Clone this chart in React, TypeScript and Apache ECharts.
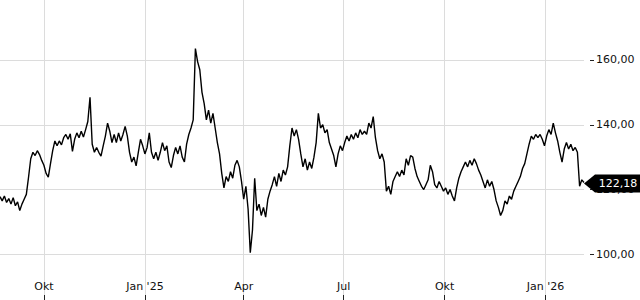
import React, { useEffect, useRef } from "react";
import * as echarts from "echarts";

// Price series, one value every 2 calendar days starting 22 Aug 2024
const START_DATE = "2024-08-22";
const STEP_DAYS = 2;
const prices2024a = [
  117.8, 116.5, 118.0, 116.0, 117.2, 115.5, 117.5, 115.0, 116.2, 113.5, 115.5, 117.0,
  118.5, 123.8, 129.5, 131.5, 130.5, 132.0, 130.8, 129.0, 127.5, 125.0, 123.8,
  128.0, 132.0, 135.0, 133.5, 135.0, 133.8, 136.0, 137.0, 135.5, 137.2, 131.8, 135.5, 137.5, 136.0, 138.0, 136.2, 138.5, 141.0, 148.5,
];
const prices2024b = [
  134.0, 131.5, 133.0, 131.5, 130.3, 133.5, 136.5, 140.5, 138.0, 134.5, 137.0, 134.5, 137.5, 135.0, 137.0, 139.5, 136.5,
  131.5, 128.5, 130.0, 127.3, 131.5, 135.5, 133.5, 131.0, 133.0, 137.5, 131.5, 129.5, 131.5, 129.0, 131.5,
  134.5, 132.0, 133.5, 128.5, 126.8, 130.5, 133.0, 131.0, 133.5, 130.0, 128.5, 134.0, 137.0, 139.0, 141.5,
];
const prices2025a = [
  163.5, 159.5, 157.0, 150.0, 146.5, 141.5, 144.5, 140.5, 143.5, 139.0, 134.5, 131.0, 125.0, 120.5, 124.0,
  122.5, 125.5, 123.5, 127.5, 129.0, 127.0, 122.5, 117.0, 121.0, 114.0,
  100.5, 107.5, 123.5, 113.5, 115.5, 112.0, 114.5, 111.5, 117.0, 119.5, 121.5, 124.0, 121.0, 125.0, 122.5,
  126.0, 124.5, 127.0, 133.5, 139.0, 136.5, 138.5, 135.5, 131.0, 127.0, 129.5, 126.0, 128.5, 126.5,
];
const prices2025b = [
  130.0, 134.5, 143.5, 139.0, 140.0, 137.5, 138.5, 134.5, 132.5, 130.5, 127.0, 131.0, 133.5, 132.0, 134.5,
  136.5, 135.0, 137.0, 135.5, 137.5, 136.0, 138.5, 137.0, 138.0, 137.0, 140.5, 139.0, 142.5, 136.0, 132.0,
  129.5, 131.0, 128.5,
  119.5, 121.0, 118.5, 122.5, 124.0, 125.5, 124.0, 126.0, 124.5, 129.5, 127.5, 130.5, 130.0, 126.5, 124.0,
  122.5, 121.0, 120.0, 121.5, 123.0, 127.5, 125.5, 121.5, 120.5, 122.5, 121.0, 119.5, 120.5, 118.5, 120.0,
  118.0, 116.5,
];
const prices2025c = [
  120.5, 123.5, 125.5, 127.0, 128.5, 127.0, 129.0, 127.5, 129.5, 128.0, 126.0, 124.5, 122.5, 120.5, 123.0,
  121.0, 122.5, 120.0, 116.5, 114.5, 112.0, 113.5, 116.5, 115.5, 118.0, 117.0, 119.5, 121.0, 122.5, 124.0,
  126.5, 128.0,
  131.0, 134.0, 136.5, 135.5, 137.0, 136.0, 137.0, 135.5, 133.5, 136.5, 138.5, 137.0, 140.5, 137.5, 135.0,
  131.5, 128.5, 132.5, 134.5, 132.5, 134.0, 132.0, 133.0, 131.5, 121.0, 123.0, 122.18,
];

const xTickDates = ["2024-10-01", "2025-01-01", "2025-04-01", "2025-07-01", "2025-10-01", "2026-01-01"];
const xTickLabels = ["Okt", "Jan '25", "Apr", "Jul", "Okt", "Jan '26"];
const yMin = 80;
const yMax = 180;
const yStep = 20;

const DAY = 86400000;
const toTs = (s: string) => {
  const [y, m, d] = s.split("-").map(Number);
  return Date.UTC(y, m - 1, d);
};
const fmt = (v: number) => v.toFixed(2).replace(".", ",");

export default function App() {
  const ref = useRef<HTMLDivElement>(null);
  useEffect(() => {
    if (!ref.current) return;
    const chart = echarts.init(ref.current, undefined, { renderer: "svg" });
    const prices = [...prices2024a, ...prices2024b, ...prices2025a, ...prices2025b, ...prices2025c];
    const t0 = toTs(START_DATE);
    const data = prices.map((v, i) => [t0 + i * STEP_DAYS * DAY, v]);
    const last = data[data.length - 1];
    const tickTs = xTickDates.map(toTs);
    const font = "DejaVu Sans";
    chart.setOption({
      animation: false,
      grid: { left: 0, right: 56, top: 0.2, height: 323.9 },
      xAxis: {
        type: "value",
        min: t0,
        max: last[0],
        offset: -19.1,
        axisLine: { show: false },
        axisTick: {
          show: true,
          inside: true,
          length: 5,
          customValues: tickTs,
          lineStyle: { color: "#222", width: 1 },
        },
        axisLabel: {
          inside: true,
          margin: 8,
          customValues: tickTs,
          fontFamily: font,
          fontSize: 11,
          color: "#111",
          formatter: (val: number) => {
            const idx = tickTs.indexOf(val);
            return idx >= 0 ? xTickLabels[idx] : "";
          },
        },
        splitLine: { show: true, lineStyle: { color: "#dcdcdc", width: 1 } },
      },
      yAxis: {
        type: "value",
        position: "right",
        min: yMin,
        max: yMax,
        interval: yStep,
        offset: 6,
        axisLine: { show: false },
        axisTick: { show: true, length: 4, lineStyle: { color: "#222" } },
        axisLabel: {
          margin: 6,
          fontFamily: font,
          fontSize: 11,
          color: "#111",
          showMinLabel: false,
          showMaxLabel: false,
          formatter: (v: number) => fmt(v),
        },
        splitLine: { show: true, lineStyle: { color: "#dcdcdc", width: 1 } },
      },
      series: [
        {
          type: "line",
          data,
          showSymbol: false,
          symbol: "none",
          clip: false,
          lineStyle: { color: "#000", width: 1.4 },
          markPoint: {
            symbol: "path://M0,9 L11,0 L60,0 L60,18 L11,18 Z",
            symbolSize: [60, 18],
            symbolOffset: [30, 1],
            itemStyle: { color: "#000" },
            label: {
              show: true,
              color: "#fff",
              fontFamily: font,
              fontSize: 11,
              offset: [4, 0],
              formatter: (p: any) => fmt(p.value),
            },
            data: [{ coord: last, value: last[1] }],
          },
        },
      ],
    });
    return () => chart.dispose();
  }, []);
  return (
    <div style={{ position: "absolute", left: 0, top: 0, width: 640, height: 300, overflow: "hidden" }}>
      <div
        ref={ref}
        style={{ position: "absolute", left: 0, top: -5, width: 640, height: 325 }}
      />
    </div>
  );
}
